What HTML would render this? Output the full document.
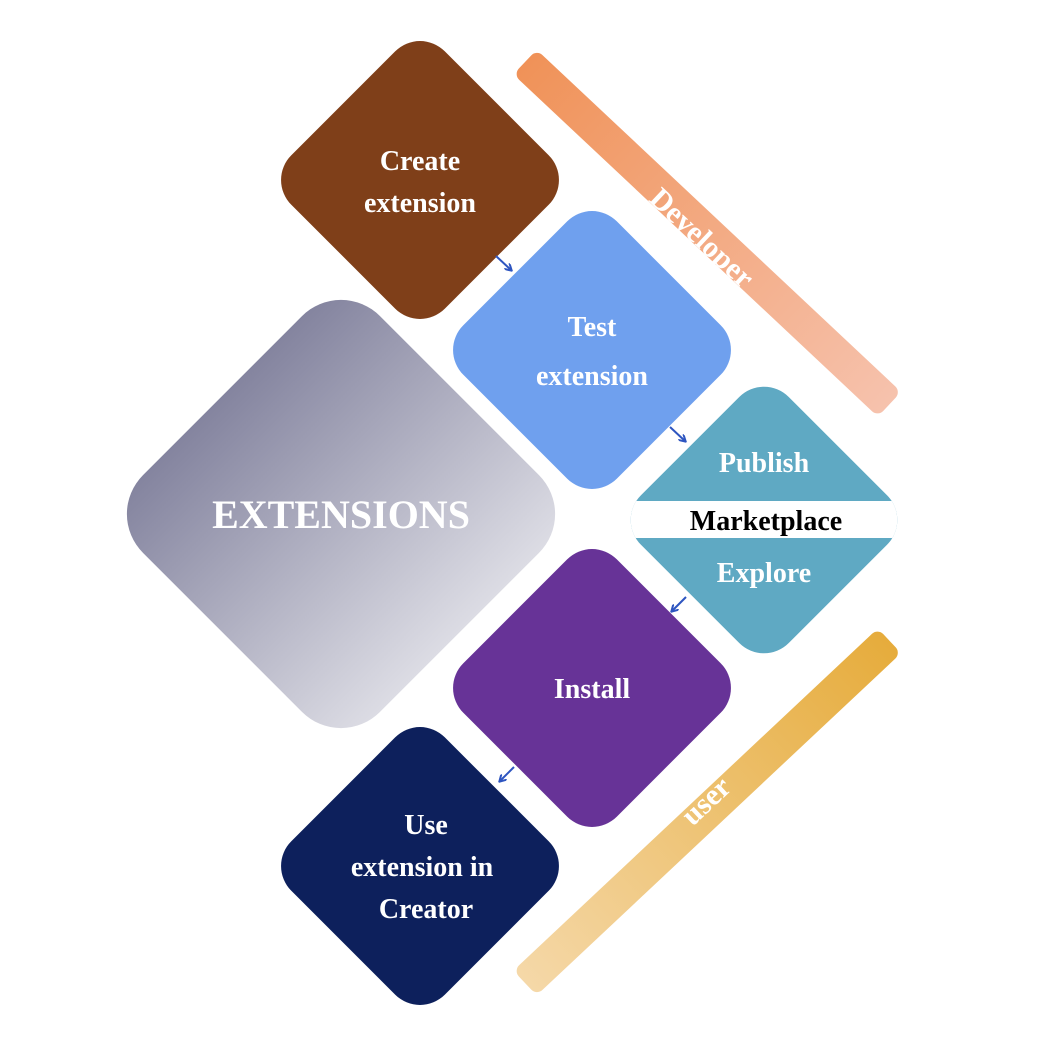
<!DOCTYPE html>
<html><head><meta charset="utf-8"><style>
html,body{margin:0;padding:0;background:#fff;}
svg text{font-family:"Liberation Serif",serif;font-weight:bold;}
</style></head><body>
<svg width="1042" height="1058" viewBox="0 0 1042 1058" xmlns="http://www.w3.org/2000/svg">
<defs>
<linearGradient id="gExt" x1="0" y1="0.5" x2="1" y2="0.5">
<stop offset="0" stop-color="#84849f"/><stop offset="1" stop-color="#dcdce4"/></linearGradient>
<linearGradient id="gDev" x1="0" y1="0" x2="1" y2="0">
<stop offset="0" stop-color="#f09258"/><stop offset="1" stop-color="#f6c2ad"/></linearGradient>
<linearGradient id="gUser" x1="0" y1="0" x2="1" y2="0">
<stop offset="0" stop-color="#f5d8a8"/><stop offset="1" stop-color="#e6ac3c"/></linearGradient>
<marker id="ar" markerWidth="8" markerHeight="8" refX="6" refY="4" orient="auto" markerUnits="userSpaceOnUse">
<path d="M0,0 L7,4 L0,8" fill="none" stroke="#2e55c0" stroke-width="2"/></marker>
<clipPath id="cm"><rect x="-104.5" y="-104.5" width="209" height="209" rx="35" transform="translate(764,520) rotate(45)"/></clipPath>
</defs>
<!-- bars -->
<rect x="0" y="-17" width="500" height="34" rx="8" fill="url(#gDev)" transform="translate(525,62) rotate(43.2)"/>
<text transform="translate(700,240) rotate(43.2)" font-size="30" fill="#fff" text-anchor="middle" dominant-baseline="middle">Developer</text>
<rect x="0" y="-17" width="500" height="34" rx="8" fill="url(#gUser)" transform="translate(525,983) rotate(-43.2)"/>
<text transform="translate(708,803) rotate(-43.2)" font-size="30" fill="#fff" text-anchor="middle" dominant-baseline="middle">user</text>
<!-- EXTENSIONS -->
<rect x="-167.5" y="-167.5" width="335" height="335" rx="55" fill="url(#gExt)" transform="translate(341,514) rotate(45)"/>
<text x="341" y="528" font-size="40" fill="#fff" text-anchor="middle">EXTENSIONS</text>
<!-- create -->
<rect x="-108.5" y="-108.5" width="217" height="217" rx="35" fill="#7f3f19" transform="translate(420,180) rotate(45)"/>
<text x="420" y="170" font-size="28" fill="#fff" text-anchor="middle">Create</text>
<text x="420" y="212" font-size="28" fill="#fff" text-anchor="middle">extension</text>
<!-- test -->
<rect x="-108.5" y="-108.5" width="217" height="217" rx="35" fill="#6fa0ee" transform="translate(592,350) rotate(45)"/>
<text x="592" y="336" font-size="28" fill="#fff" text-anchor="middle">Test</text>
<text x="592" y="385" font-size="28" fill="#fff" text-anchor="middle">extension</text>
<!-- marketplace -->
<g clip-path="url(#cm)">
<rect x="600" y="370" width="320" height="300" fill="#5fa9c3"/>
<rect x="600" y="501" width="320" height="37" fill="#fff"/>
</g>
<text x="764" y="472" font-size="28" fill="#fff" text-anchor="middle">Publish</text>
<text x="766" y="530" font-size="28" fill="#000" text-anchor="middle">Marketplace</text>
<text x="764" y="582" font-size="28" fill="#fff" text-anchor="middle">Explore</text>
<!-- install -->
<rect x="-108.5" y="-108.5" width="217" height="217" rx="35" fill="#673397" transform="translate(592,688) rotate(45)"/>
<text x="592" y="698" font-size="28" fill="#fff" text-anchor="middle">Install</text>
<!-- use -->
<rect x="-108.5" y="-108.5" width="217" height="217" rx="35" fill="#0d205c" transform="translate(420,866) rotate(45)"/>
<text x="426" y="834" font-size="28" fill="#fff" text-anchor="middle">Use</text>
<text x="422" y="876" font-size="28" fill="#fff" text-anchor="middle">extension in</text>
<text x="426" y="918" font-size="28" fill="#fff" text-anchor="middle">Creator</text>
<!-- arrows -->
<line x1="496" y1="256" x2="511" y2="270" stroke="#2e55c0" stroke-width="2" marker-end="url(#ar)"/>
<line x1="670" y1="427" x2="685" y2="441" stroke="#2e55c0" stroke-width="2" marker-end="url(#ar)"/>
<line x1="686" y1="597" x2="672" y2="611" stroke="#2e55c0" stroke-width="2" marker-end="url(#ar)"/>
<line x1="514" y1="767" x2="500" y2="781" stroke="#2e55c0" stroke-width="2" marker-end="url(#ar)"/>
</svg>
</body></html>
